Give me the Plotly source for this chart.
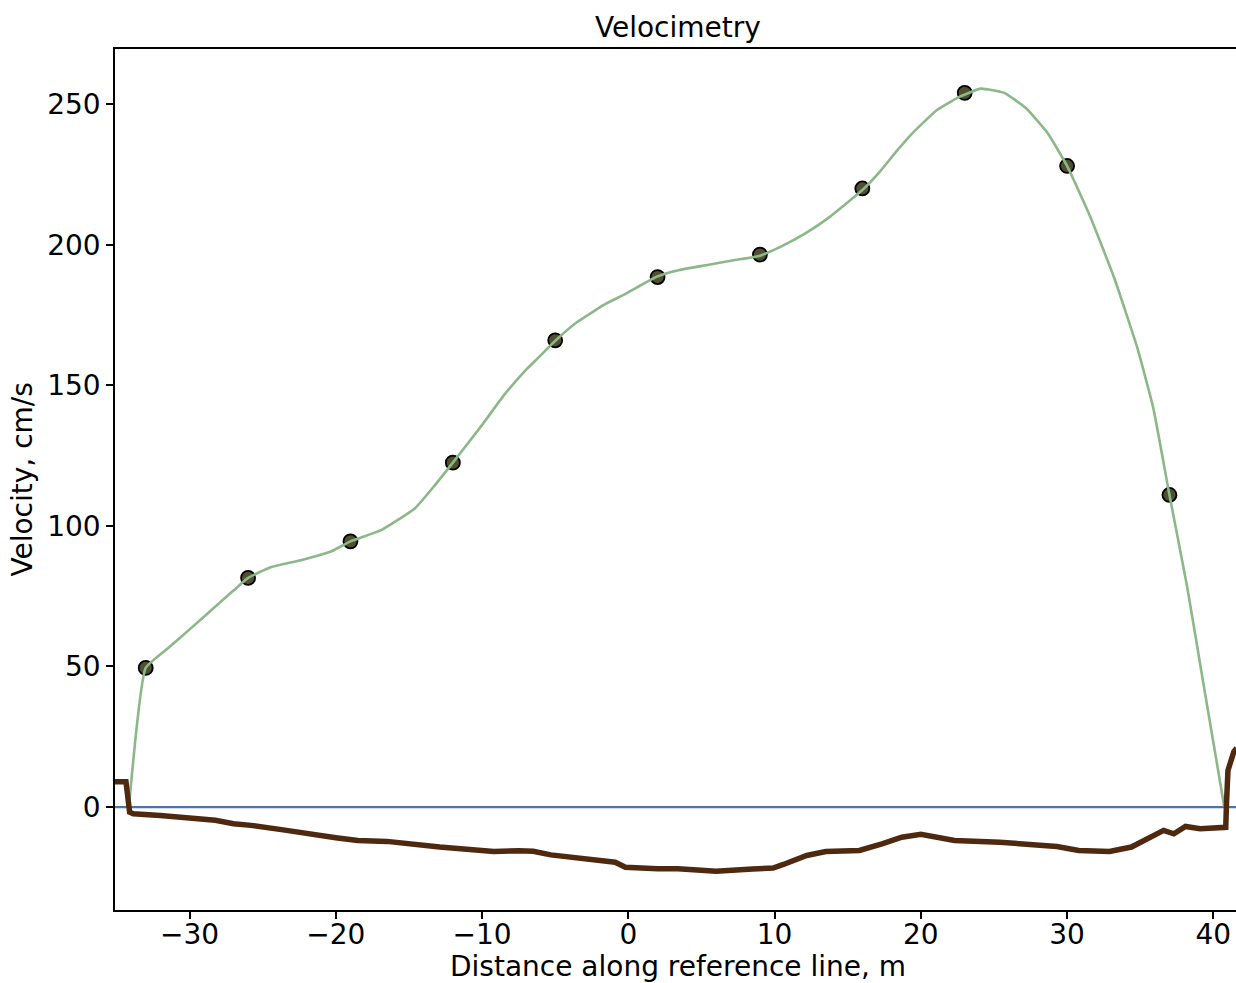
import plotly.graph_objects as go

# Sampled velocity points
sample_x = [-33, -26, -19, -12, -5, 2, 9, 16, 23, 30, 37]
sample_y = [49.5, 81.5, 94.5, 122.5, 166, 188.5, 196.5, 220, 254, 228, 111]

# Smoothed velocity profile
profile_x = [-34.15, -33.0, -31.5, -30.0, -28.5, -27.0, -26.0, -24.5, -22.4, -20.3, -19.0,
             -16.9, -14.6, -13.3, -12.0, -10.1, -8.5, -7.0, -6.1, -4.94, -3.5, -1.5, -0.2,
             1.93, 3.5, 5.3, 7.0, 9.0, 10.5, 12.1, 13.8, 16.06, 17.2, 18.3, 19.4, 21.1,
             22.6, 24.1, 25.7, 27.2, 28.7, 30.0, 31.5, 33.2, 34.8, 35.9, 37.0, 38.2,
             39.3, 40.75]
profile_y = [0, 49.5, 56.4, 63.2, 70.1, 77.0, 81.5, 85.2, 87.8, 91.0, 94.5,
             98.5, 106.2, 114.0, 122.5, 135.2, 146.5, 155.5, 160.1, 166.1, 172.5, 179.1, 182.5,
             188.6, 191.0, 192.7, 194.3, 196.1, 199.5, 204.0, 210.0, 219.7, 226.0, 233.0, 239.5, 247.9,
             252.5, 255.5, 254.0, 248.5, 239.5, 228.0, 211.0, 188.5, 163.4, 141.8, 111.0, 78.6,
             44.6, 0]

# Cross-section (bed) line
bed_x = [-35.1, -34.35, -34.1, -33.85, -32.0, -29.95, -28.24, -27.0, -25.8, -23.6, -21.4,
         -20.0, -18.5, -16.5, -12.9, -9.2, -7.5, -6.5, -5.3, -3.0, -0.9, -0.2, 0.8, 2.0,
         3.4, 6.0, 8.5, 9.9, 10.6, 12.2, 13.5, 15.8, 17.4, 18.7, 20.0, 21.2, 22.3, 25.4,
         27.2, 29.3, 30.8, 32.9, 34.4, 35.2, 36.6, 37.3, 38.1, 39.1, 40.5, 40.85, 40.9,
         41.0, 41.4, 41.6]
bed_y = [9.0, 9.0, -1.8, -2.4, -3.0, -3.8, -4.7, -5.9, -6.5, -8.1, -10.1,
         -10.9, -11.9, -12.2, -14.2, -15.8, -15.5, -15.7, -17.0, -18.3, -19.6, -21.4, -21.7, -21.9,
         -21.9, -22.8, -22.0, -21.7, -20.4, -17.2, -15.8, -15.4, -13.0, -10.7, -9.7, -10.7, -11.9, -12.5,
         -13.0, -14.0, -15.4, -15.8, -14.2, -12.1, -8.3, -9.5, -6.9, -7.7, -7.4, -7.2, 1.3,
         13.0, 19.7, 21.0]

x_range = [-35.1, 41.55]
y_range = [-36.6, 269.6]
x_ticks = [-30, -20, -10, 0, 10, 20, 30, 40]
y_ticks = [0, 50, 100, 150, 200, 250]

FONT = "DejaVu Sans"
FS = 28
fig = go.Figure()

fig.add_trace(go.Scatter(
    x=sample_x, y=sample_y, mode="markers",
    marker=dict(size=14, color="#50502f", line=dict(color="#000000", width=1.8)),
    showlegend=False, hoverinfo="x+y"))
fig.add_trace(go.Scatter(
    x=profile_x, y=profile_y, mode="lines",
    line=dict(color="#8cb788", width=2.6, shape="spline", smoothing=0.4),
    showlegend=False))
fig.add_trace(go.Scatter(
    x=bed_x, y=bed_y, mode="lines",
    line=dict(color="#4e2910", width=5.5),
    showlegend=False))

fig.add_shape(type="line", xref="paper", x0=0, x1=1, yref="y", y0=0, y1=0,
              line=dict(color="#4c72b0", width=2.2), layer="below")

fig.update_layout(
    width=1236, height=983,
    margin=dict(l=115, r=0, t=49, b=73, pad=0),
    paper_bgcolor="white", plot_bgcolor="white",
    font=dict(family=FONT, size=FS, color="#000000"),
    showlegend=False,
)
fig.update_xaxes(
    range=x_range, tickvals=x_ticks, showgrid=False, zeroline=False,
    showline=True, linecolor="#000000", linewidth=1.6, mirror=True,
    ticks="outside", ticklen=7, tickwidth=1.6, tickcolor="#000000",
    ticklabelstandoff=-8,
    tickfont=dict(family=FONT, size=FS, color="#000000"),
)
fig.update_yaxes(
    range=y_range, tickvals=y_ticks, showgrid=False, zeroline=False,
    showline=True, linecolor="#000000", linewidth=1.6, mirror=False,
    ticks="outside", ticklen=7, tickwidth=1.6, tickcolor="#000000",
    tickfont=dict(family=FONT, size=FS, color="#000000"),
)

fig.add_annotation(text="Velocimetry", xref="paper", yref="paper",
                   x=0.5025, y=1 + (49.5 - 28) / 861, xanchor="center", yanchor="middle",
                   showarrow=False, font=dict(family=FONT, size=FS, color="#000000"))
fig.add_annotation(text="Velocity, cm/s", xref="paper", yref="paper",
                   x=-(115 - 22) / 1121, y=0.5, xanchor="center", yanchor="middle",
                   textangle=-90, showarrow=False,
                   font=dict(family=FONT, size=FS, color="#000000"))
fig.add_annotation(text="Distance along reference line, m", xref="paper", yref="paper",
                   x=0.5025, y=-(966.5 - 910) / 861, xanchor="center", yanchor="middle",
                   showarrow=False, borderpad=0,
                   font=dict(family=FONT, size=FS, color="#000000"))

fig.write_html("out.html", config={"displayModeBar": False},
               post_script="document.body.style.margin='0';document.body.style.overflow='hidden';")
